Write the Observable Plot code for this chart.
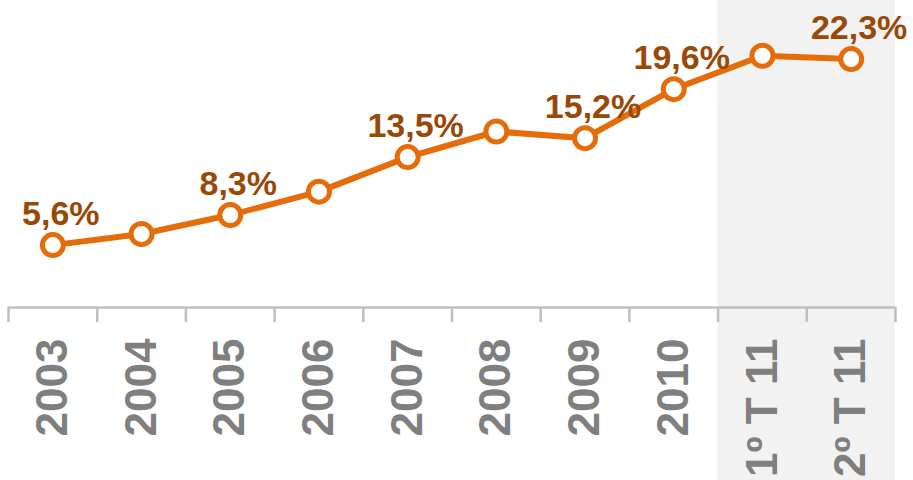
<!DOCTYPE html>
<html>
<head>
<meta charset="utf-8">
<script src="https://cdn.jsdelivr.net/npm/d3@7"></script>
<script src="https://cdn.jsdelivr.net/npm/@observablehq/plot@0.6"></script>
<style>
  html, body { margin: 0; padding: 0; background: #fff; }
  #chart svg { display: block; }
</style>
</head>
<body>
<div id="chart"></div>
<script>
const categories = ["2003", "2004", "2005", "2006", "2007", "2008", "2009", "2010", "1º T 11", "2º T 11"];
const values = [5.6, 6.6, 8.3, 10.4, 13.5, 15.8, 15.2, 19.6, 22.6, 22.3];
const labeled = [true, false, true, false, true, false, true, true, false, true];
const shaded = ["1º T 11", "2º T 11"];

const data = categories.map((c, i) => ({cat: c, value: values[i], label: labeled[i]}));

const orange = "#e46c0a";
const labelColor = "#984807";
const axisGray = "#bfbfbf";
const textGray = "#7f7f7f";

const yMax = 27.56;
const pxPerUnit = 307 / yMax;
const u = px => px / pxPerUnit;

const fmt = v => v.toFixed(1).replace(".", ",") + "%";

const bw = (895 - 8) / categories.length;

const chart = Plot.plot({
  width: 913,
  height: 480,
  marginTop: 0,
  marginLeft: 8,
  marginRight: 18,
  marginBottom: 173,
  style: {fontFamily: "Arial, 'Liberation Sans', sans-serif", background: "transparent"},
  x: {type: "band", domain: categories, padding: 0, round: false, axis: null},
  y: {domain: [0, yMax], axis: null},
  marks: [
    Plot.barY(shaded, {x: d => d, y1: -u(175), y2: yMax, fill: "#f2f2f2", inset: 0}),
    Plot.ruleY([0], {stroke: axisGray, strokeWidth: 2.5}),
    Plot.ruleX(categories, {x: d => d, dx: -bw / 2, y1: 0, y2: -u(15), stroke: axisGray, strokeWidth: 2.5}),
    Plot.ruleX([categories[categories.length - 1]], {x: d => d, dx: bw / 2, y1: 0, y2: -u(15), stroke: axisGray, strokeWidth: 2.5}),
    Plot.text(categories, {
      x: d => d, y: -u(31), text: d => d, rotate: -90, textAnchor: "end",
      fontSize: 44, fontWeight: "bold", fill: textGray, lineAnchor: "middle"
    }),
    Plot.line(data, {x: "cat", y: "value", stroke: orange, strokeWidth: 6, curve: "linear"}),
    Plot.dot(data, {x: "cat", y: "value", r: 10.5, fill: "white", stroke: orange, strokeWidth: 5}),
    Plot.text(data.filter(d => d.label), {
      x: "cat", y: "value", text: d => fmt(d.value), dx: 8, dy: -20,
      lineAnchor: "bottom", fontSize: 34, fontWeight: "bold", fill: labelColor
    })
  ]
});

document.getElementById("chart").appendChild(chart);
</script>
</body>
</html>
